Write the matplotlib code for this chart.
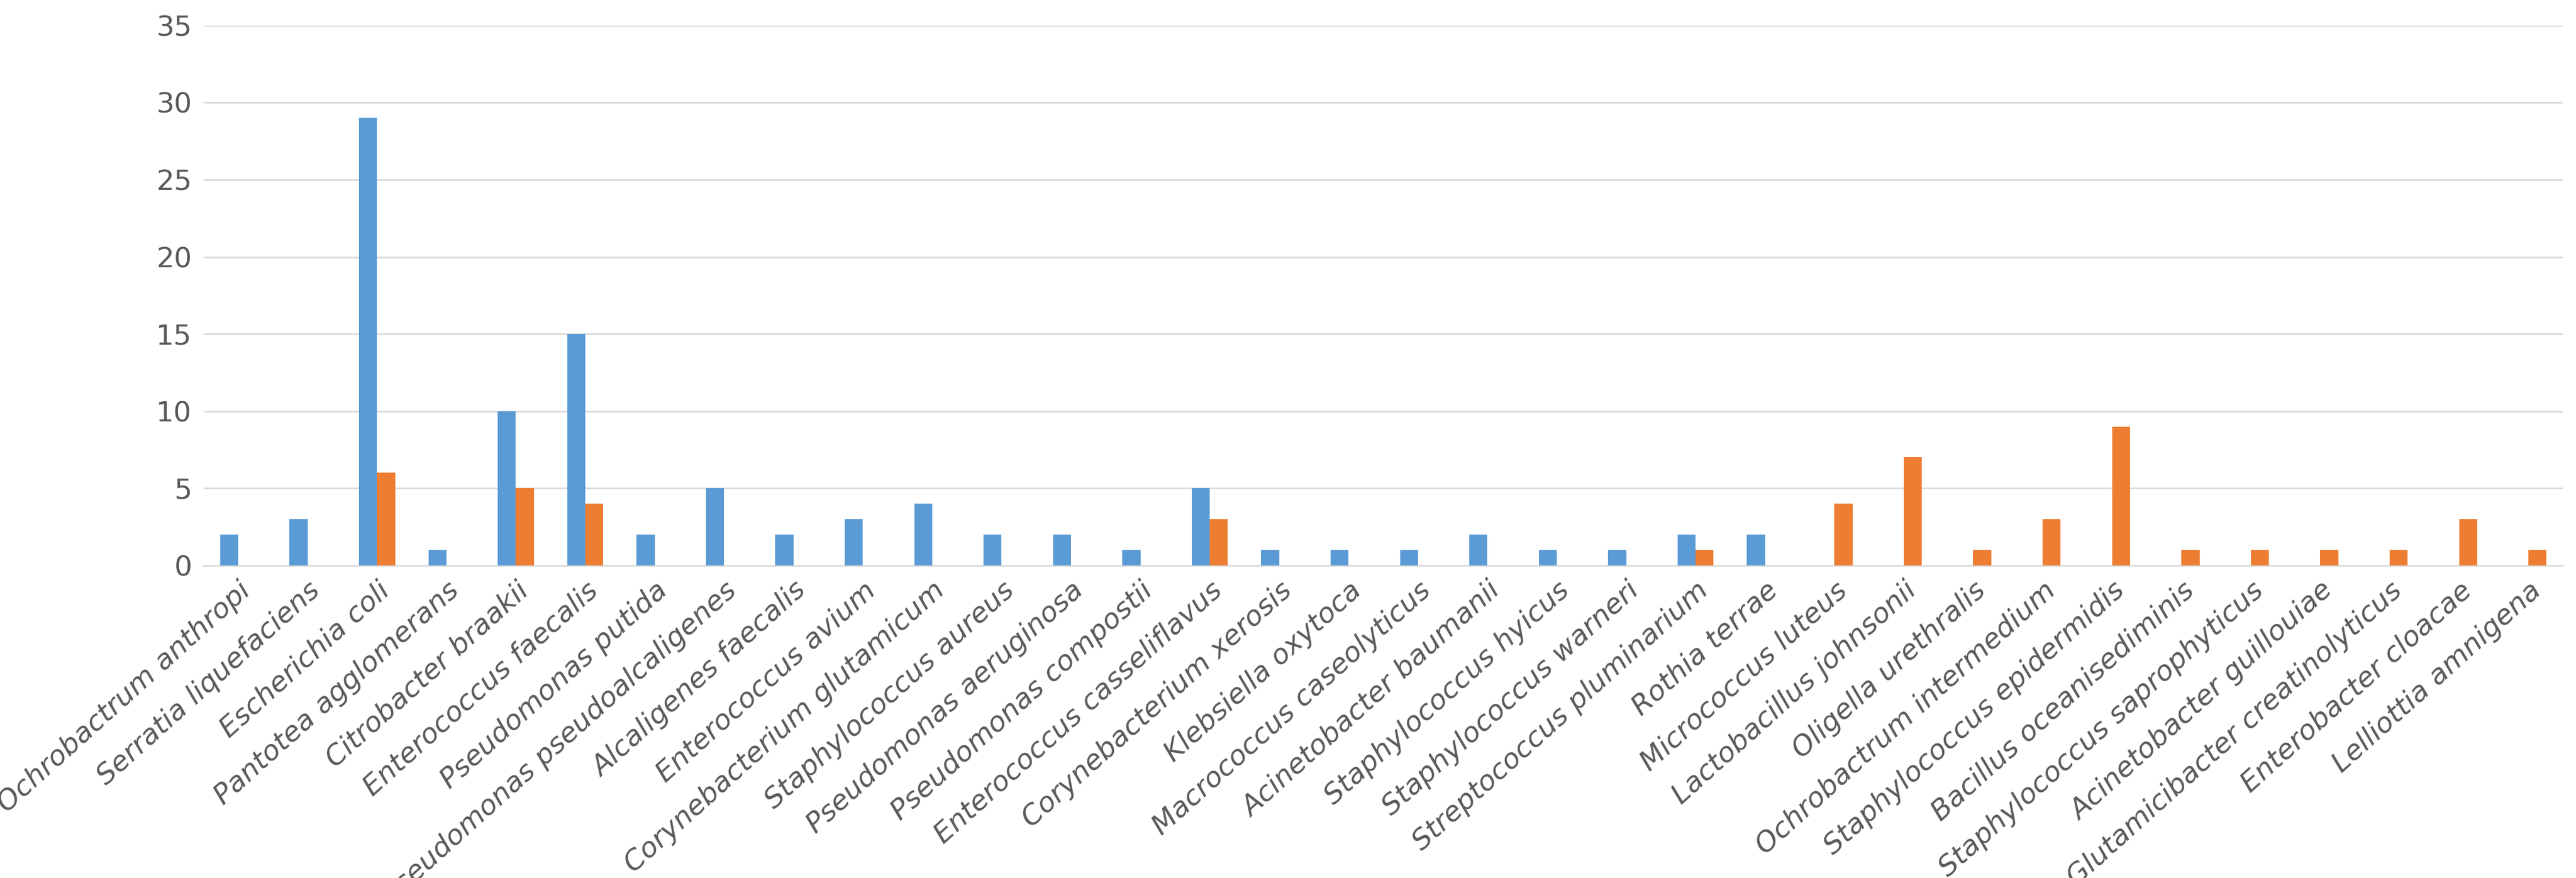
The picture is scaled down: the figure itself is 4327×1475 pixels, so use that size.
import numpy as np
import matplotlib.pyplot as plt

plt.rcParams['font.family'] = ['Liberation Sans Narrow', 'DejaVu Sans']

species = ["Ochrobactrum anthropi", "Serratia liquefaciens", "Escherichia coli",
           "Pantotea agglomerans", "Citrobacter braakii", "Enterococcus faecalis",
           "Pseudomonas putida", "Pseudomonas pseudoalcaligenes", "Alcaligenes faecalis",
           "Enterococcus avium", "Corynebacterium glutamicum", "Staphylococcus aureus",
           "Pseudomonas aeruginosa", "Pseudomonas compostii", "Enterococcus casseliflavus",
           "Corynebacterium xerosis", "Klebsiella oxytoca", "Macrococcus caseolyticus",
           "Acinetobacter baumanii", "Staphylococcus hyicus", "Staphylococcus warneri",
           "Streptococcus pluminarium", "Rothia terrae", "Micrococcus luteus",
           "Lactobacillus johnsonii", "Oligella urethralis", "Ochrobactrum intermedium",
           "Staphylococcus epidermidis", "Bacillus oceanisediminis",
           "Staphylococcus saprophyticus", "Acinetobacter guillouiae",
           "Glutamicibacter creatinolyticus", "Enterobacter cloacae", "Lelliottia amnigena"]
series_a = [2, 3, 29, 1, 10, 15, 2, 5, 2, 3, 4, 2, 2, 1, 5, 1, 1, 1, 2, 1, 1, 2, 2,
            0, 0, 0, 0, 0, 0, 0, 0, 0, 0, 0]
series_b = [0, 0, 6, 0, 5, 4, 0, 0, 0, 0, 0, 0, 0, 0, 3, 0, 0, 0, 0, 0, 0, 1, 0,
            4, 7, 1, 3, 9, 1, 1, 1, 1, 3, 1]

fig = plt.figure(figsize=(43.27, 14.75), dpi=100)
ax = fig.add_axes([0.079, 0.356, 0.916, 0.615])

x = np.arange(len(species))
w = 0.26
ax.bar(x - w / 2, series_a, w, color="#5B9BD5", zorder=3)
ax.bar(x + w / 2, series_b, w, color="#ED7D31", zorder=3)

ax.set_xlim(-0.5, len(species) - 0.5)
ax.set_ylim(0, 35)
ax.set_yticks(range(0, 36, 5))
ax.yaxis.grid(True, color="#D9D9D9", linewidth=2, zorder=0)
for s in ["top", "right", "left"]:
    ax.spines[s].set_visible(False)
ax.spines["bottom"].set_color("#D9D9D9")
ax.spines["bottom"].set_linewidth(2)
ax.tick_params(axis="both", length=0, labelsize=34, labelcolor="#595959", pad=14)
ax.set_xticks(x)
ax.set_xticklabels(species, rotation=42, ha="right", rotation_mode="anchor",
                   style="italic")

fig.savefig("out.png", dpi=100)
